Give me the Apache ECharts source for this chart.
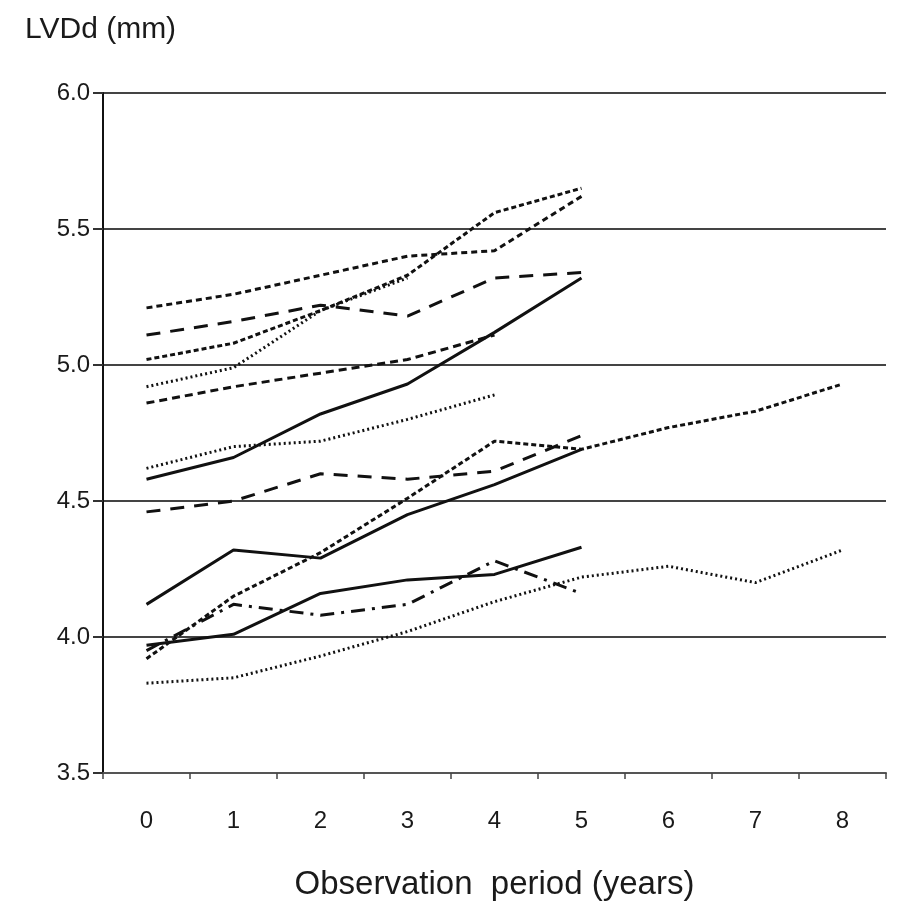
<!DOCTYPE html>
<html>
<head>
<meta charset="utf-8">
<script src="https://cdn.jsdelivr.net/npm/echarts@6/dist/echarts.min.js"></script>
<style>
  html, body { margin: 0; padding: 0; background: #fff; }
  #chart { width: 901px; height: 907px; }
</style>
</head>
<body>
<div id="chart"></div>
<script>
const years = ['0', '1', '2', '3', '4', '5', '6', '7', '8'];

// one array per patient (LVDd, mm)
const lineA = [5.21, 5.26, 5.33, 5.40, 5.42, 5.62];
const lineB = [5.02, 5.08, 5.20, 5.33, 5.56, 5.65];
const lineM = [4.92, 4.99, 5.20, 5.32];
const lineC = [5.11, 5.16, 5.22, 5.18, 5.32, 5.34];
const lineD = [4.86, 4.92, 4.97, 5.02, 5.11];
const lineE = [4.58, 4.66, 4.82, 4.93, 5.12, 5.32];
const lineF = [4.62, 4.70, 4.72, 4.80, 4.89];
const lineG = [4.46, 4.50, 4.60, 4.58, 4.61, 4.74];
const lineH = [3.92, 4.15, 4.31, 4.51, 4.72, 4.69, 4.77, 4.83, 4.93];
const lineI = [4.12, 4.32, 4.29, 4.45, 4.56, 4.69];
const lineJ = [3.97, 4.01, 4.16, 4.21, 4.23, 4.33];
const lineK = [3.95, 4.12, 4.08, 4.12, 4.28, 4.16];
const lineL = [3.83, 3.85, 3.93, 4.02, 4.13, 4.22, 4.26, 4.20, 4.32];

const yTicks = [3.5, 4.0, 4.5, 5.0, 5.5, 6.0];

const font = 'Liberation Sans, Arial, sans-serif';

// line patterns
const SOLID = 'solid';
const DOT = [2, 3];
const SHORT = [6, 4];
const DENSE = [5, 3];
const MEDIUM = [8, 5];
const LONG = [14, 10];
const DASHDOT = [14, 7, 3, 7];

function mk(data, type) {
    return {
        type: 'line',
        data: data,
        symbol: 'none',
        silent: true,
        lineStyle: { color: '#111', width: 3, type: type },
    };
}

const chart = echarts.init(document.getElementById('chart'));

chart.setOption({
    animation: false,
    backgroundColor: '#fff',
    title: {
        text: 'LVDd (mm)',
        left: 20,
        top: 10,
        textStyle: { fontFamily: font, fontSize: 30, fontWeight: 'normal', color: '#1a1a1a' }
    },
    grid: { left: 103, right: 15, top: 93, bottom: 134, containLabel: false },
    xAxis: {
        type: 'category',
        data: years,
        boundaryGap: true,
        name: 'Observation  period (years)',
        nameLocation: 'middle',
        nameGap: 95,
        nameTextStyle: { fontFamily: font, fontSize: 33, color: '#1a1a1a' },
        axisLine: { lineStyle: { color: '#555', width: 2 } },
        axisTick: { show: true, length: 6, lineStyle: { color: '#444', width: 1.5 } },
        axisLabel: { fontFamily: font, fontSize: 24, color: '#1a1a1a', margin: 36 },
        splitLine: { show: false }
    },
    yAxis: {
        type: 'value',
        min: yTicks[0],
        max: yTicks[yTicks.length - 1],
        interval: 0.5,
        axisLine: { show: true, lineStyle: { color: '#111', width: 2 } },
        axisTick: { show: true, length: 10, lineStyle: { color: '#333', width: 2 } },
        axisLabel: {
            fontFamily: font, fontSize: 24, color: '#1a1a1a', margin: 13,
            formatter: v => v.toFixed(1)
        },
        splitLine: { show: true, lineStyle: { color: '#444', width: 2 } }
    },
    series: [
        mk(lineA, SHORT),
        mk(lineB, DENSE),
        mk(lineM, DOT),
        mk(lineC, LONG),
        mk(lineD, MEDIUM),
        mk(lineE, SOLID),
        mk(lineF, DOT),
        mk(lineG, LONG),
        mk(lineH, DENSE),
        mk(lineI, SOLID),
        mk(lineJ, SOLID),
        mk(lineK, DASHDOT),
        mk(lineL, DOT),
    ]
});
</script>
</body>
</html>
